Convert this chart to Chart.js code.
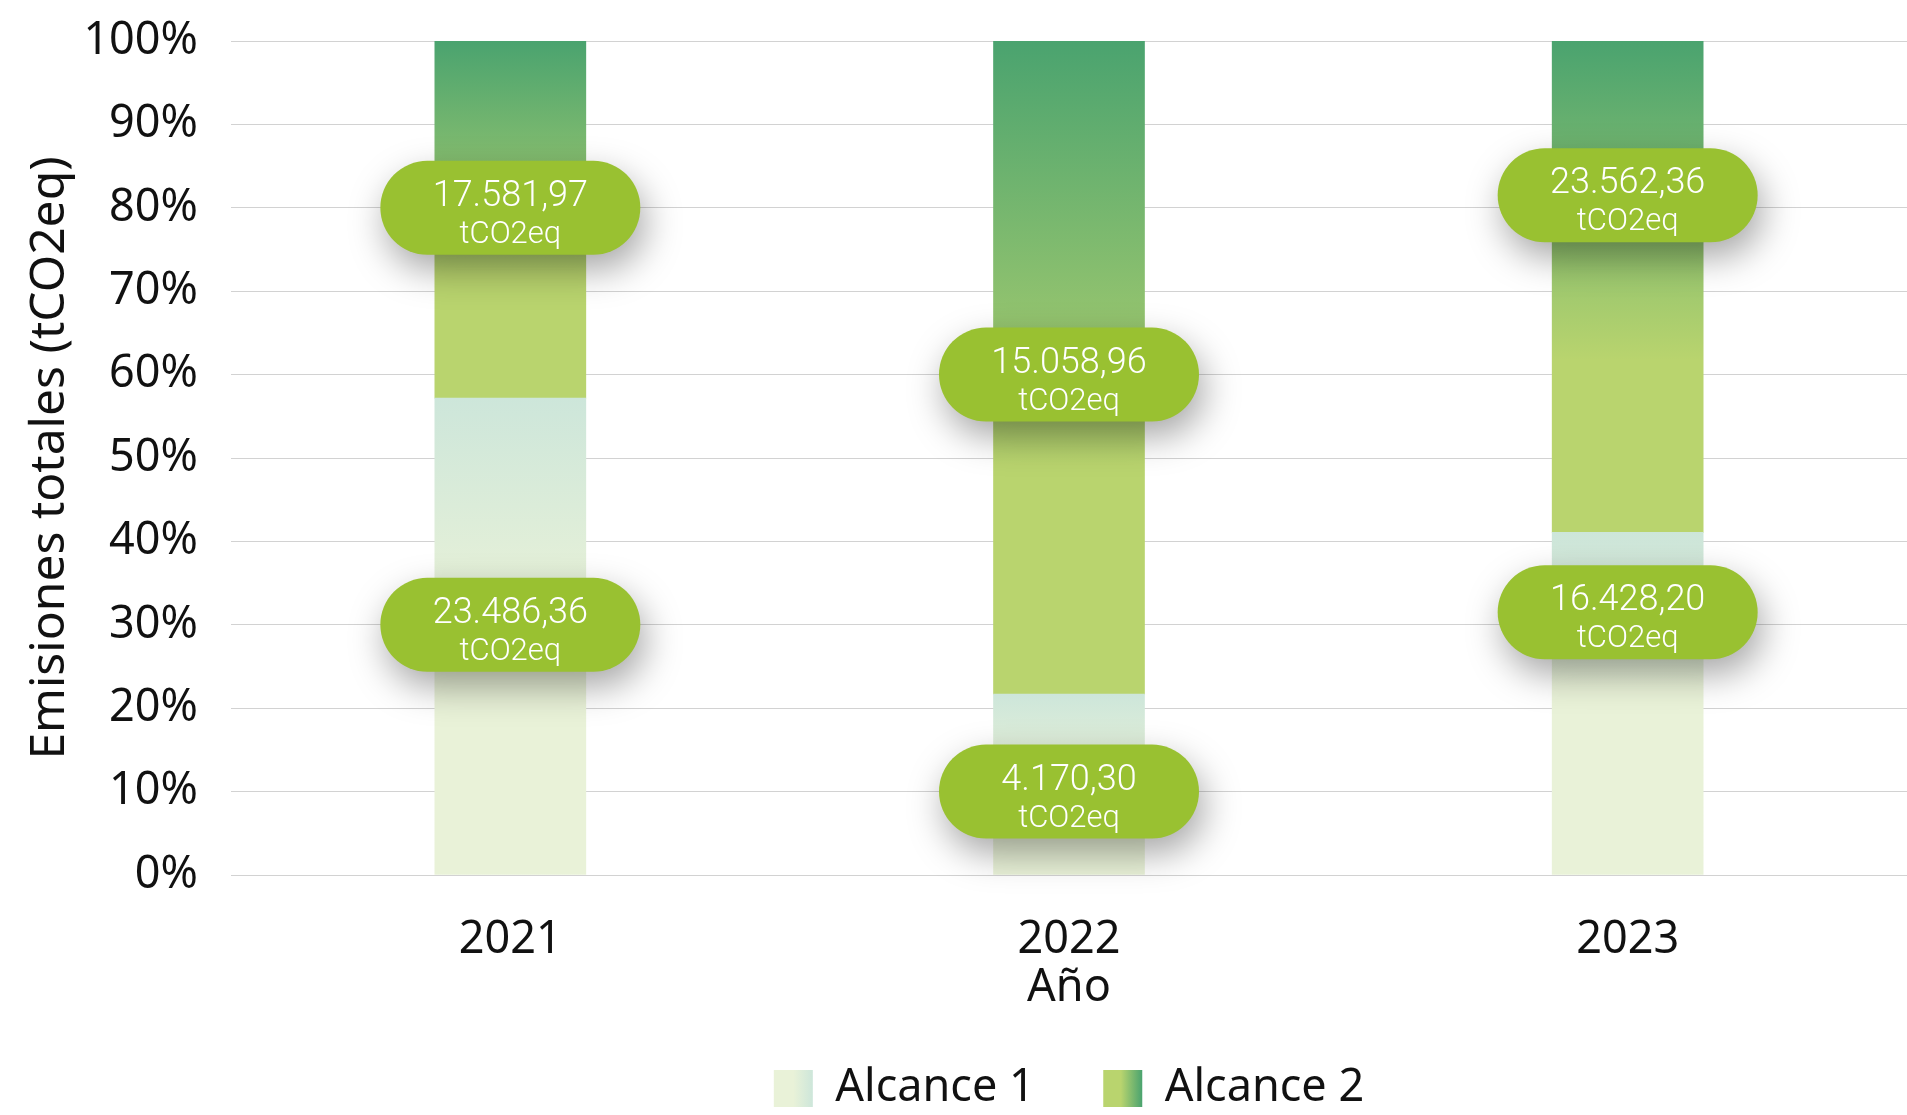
<!DOCTYPE html>
<html>
<head>
<meta charset="utf-8">
<script src="https://cdn.jsdelivr.net/npm/chart.js@4.4.1/dist/chart.umd.min.js"></script>
<style>
html,body{margin:0;padding:0;background:#fff;overflow:hidden}
#wrap{width:1907px;height:1115px;position:relative}
</style>
</head>
<body>
<div id="wrap"><canvas id="c" width="1907" height="1115"></canvas></div>
<script>
// ---- data ----
const categories = ['2021', '2022', '2023'];
const seriesNames = ['Alcance 1', 'Alcance 2'];
const alcance1 = [23486.36, 4170.30, 16428.20];
const alcance2 = [17581.97, 15058.96, 23562.36];
const yTickValues = [0, 10, 20, 30, 40, 50, 60, 70, 80, 90, 100];
const labelAnchorA1 = [30, 10, 31.5];   // % position of the value badges
const labelAnchorA2 = [80, 60, 81.5];
const unitLabel = 'tCO2eq';

// ---- derived shares (100% stacked) ----
const totals = alcance1.map((v, i) => v + alcance2[i]);
const pct1 = alcance1.map((v, i) => v / totals[i] * 100);
const pct2 = alcance2.map((v, i) => v / totals[i] * 100);

function fmt(v) {
  const parts = v.toFixed(2).split('.');
  return parts[0].replace(/\B(?=(\d{3})+(?!\d))/g, '.') + ',' + parts[1];
}

const FONT = '"Noto Sans", sans-serif';
const C_DARK = '#4AA36F', C_LIGHT = '#B9D46E', C_MINT = '#CDE6DA', C_PALE = '#E9F2D8';
const PILL = '#99C131';

function segGradient(ctx, dsIndex) {
  const chart = ctx.chart;
  const ys = chart.scales && chart.scales.y;
  if (ctx.type !== 'data' || !ys || !chart.chartArea) return dsIndex ? '#9ccc70' : '#dcecd8';
  const i = ctx.dataIndex;
  const lo = dsIndex === 0 ? 0 : pct1[i];
  const hi = dsIndex === 0 ? pct1[i] : 100;
  const yTop = ys.getPixelForValue(hi), yBot = ys.getPixelForValue(lo);
  const g = chart.ctx.createLinearGradient(0, yTop, 0, yBot);
  if (dsIndex === 1) {
    g.addColorStop(0, C_DARK); g.addColorStop(0.65, C_LIGHT); g.addColorStop(1, C_LIGHT);
  } else {
    g.addColorStop(0, C_MINT); g.addColorStop(0.45, C_PALE); g.addColorStop(1, C_PALE);
  }
  return g;
}

function pillPath(ctx, x, y, w, h) {
  const r = h / 2;
  ctx.beginPath();
  ctx.moveTo(x + r, y);
  ctx.lineTo(x + w - r, y);
  ctx.arc(x + w - r, y + r, r, -Math.PI / 2, Math.PI / 2);
  ctx.lineTo(x + r, y + h);
  ctx.arc(x + r, y + r, r, Math.PI / 2, Math.PI * 1.5);
  ctx.closePath();
}

const overlayPlugin = {
  id: 'overlay',
  afterDraw(chart) {
    const ctx = chart.ctx;
    const ys = chart.scales.y;
    // badges
    const anchors = [labelAnchorA1, labelAnchorA2];
    const values = [alcance1, alcance2];
    [0, 1].forEach(ds => {
      const meta = chart.getDatasetMeta(ds);
      meta.data.forEach((bar, i) => {
        const cx = bar.x;
        const cy = ys.getPixelForValue(anchors[ds][i]);
        const w = 260, h = 94;
        ctx.save();
        ctx.shadowColor = 'rgba(0,0,0,0.35)';
        ctx.shadowBlur = 36;
        ctx.shadowOffsetX = 5;
        ctx.shadowOffsetY = 15;
        ctx.fillStyle = PILL;
        pillPath(ctx, cx - w / 2, cy - h / 2, w, h);
        ctx.fill();
        ctx.restore();
        ctx.save();
        ctx.fillStyle = '#ffffff';
        ctx.textAlign = 'center';
        ctx.textBaseline = 'alphabetic';
        ctx.font = '300 36px Roboto, "Noto Sans", sans-serif';
        ctx.fillText(fmt(values[ds][i]), cx, cy - 2);
        ctx.font = '300 31px Roboto, "Noto Sans", sans-serif';
        ctx.fillText(unitLabel, cx, cy + 35);
        ctx.restore();
      });
    });
    // legend gradient boxes
    const lg = chart.legend;
    if (lg && lg.legendHitBoxes) {
      const o = lg.options.labels;
      const fs = 45, bw = o.boxWidth, bh = o.boxHeight;
      lg.legendHitBoxes.forEach((hb, i) => {
        const x = hb.left, y = hb.top + Math.max((fs - bh) / 2, 0);
        const g = ctx.createLinearGradient(x, 0, x + bw, 0);
        if (i === 0) {
          g.addColorStop(0, C_PALE); g.addColorStop(0.5, C_PALE); g.addColorStop(1, C_MINT);
        } else {
          g.addColorStop(0, C_LIGHT); g.addColorStop(0.45, C_LIGHT); g.addColorStop(1, C_DARK);
        }
        ctx.save();
        ctx.fillStyle = g;
        ctx.fillRect(x, y, bw, bh);
        ctx.restore();
      });
    }
  }
};

new Chart(document.getElementById('c'), {
  type: 'bar',
  data: {
    labels: categories,
    datasets: [
      { label: seriesNames[0], data: pct1, backgroundColor: c => segGradient(c, 0), borderWidth: 0, barThickness: 151 },
      { label: seriesNames[1], data: pct2, backgroundColor: c => segGradient(c, 1), borderWidth: 0, barThickness: 151 }
    ]
  },
  options: {
    responsive: false,
    animation: false,
    events: [],
    layout: { padding: { top: 41, right: 0, bottom: -6, left: 0 } },
    plugins: {
      tooltip: { enabled: false },
      legend: {
        position: 'bottom',
        fullSize: false,
        labels: {
          boxWidth: 39,
          boxHeight: 37,
          padding: 10,
          color: '#111',
          font: { family: FONT, size: 45 },
          generateLabels: () => seriesNames.map((n, i) => ({
            text: i === 0 ? n + '     ' : n,
            fillStyle: 'rgba(0,0,0,0)',
            strokeStyle: 'rgba(0,0,0,0)',
            lineWidth: 0,
            hidden: false,
            datasetIndex: i,
            fontColor: '#111'
          }))
        }
      }
    },
    scales: {
      x: {
        stacked: true,
        grid: { display: false, drawTicks: false },
        border: { display: false },
        ticks: { color: '#111', font: { family: FONT, size: 45 }, padding: 38 },
        title: { display: true, text: 'Año', color: '#111', font: { family: FONT, size: 45 }, padding: { top: 0, bottom: 41 } },
        afterFit: s => { s.height = 181; }
      },
      y: {
        stacked: true,
        min: 0,
        max: 100,
        z: 1,
        afterBuildTicks: s => { s.ticks = yTickValues.map(v => ({ value: v })); },
        grid: { color: '#D2D2D2', lineWidth: 1, drawTicks: false },
        border: { display: false },
        ticks: { color: '#111', font: { family: FONT, size: 45 }, padding: 33, callback: v => v + '%' },
        title: { display: true, text: 'Emisiones totales (tCO2eq)', color: '#111', font: { family: FONT, size: 48 }, padding: { top: 22, bottom: 0 } },
        afterFit: s => { s.width = 231; s.paddingTop = 0; s.paddingBottom = 0; }
      }
    }
  },
  plugins: [overlayPlugin]
});
</script>
</body>
</html>
